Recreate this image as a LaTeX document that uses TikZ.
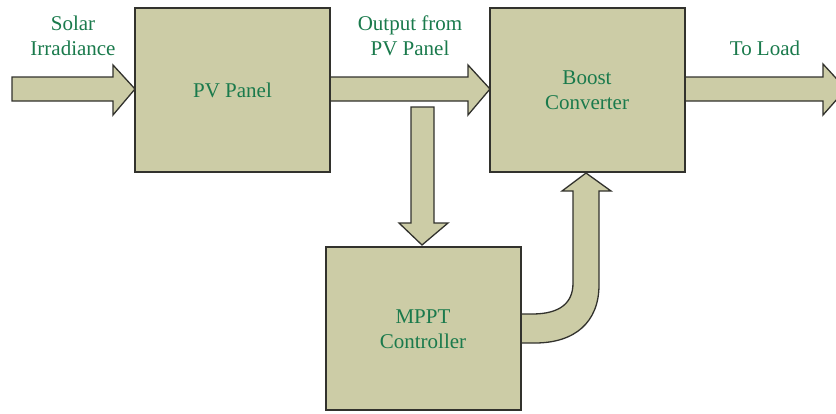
\documentclass[tikz,border=0pt]{standalone}
\usepackage{fontspec}
\setmainfont{Liberation Serif}
\definecolor{boxfill}{RGB}{204,204,166}
\definecolor{edgecol}{RGB}{50,50,45}
\definecolor{txtcol}{RGB}{26,122,76}
\begin{document}
\begin{tikzpicture}[x=1pt,y=-1pt,
  blockbox/.style={draw=edgecol,fill=boxfill,line width=1.3pt,minimum width=195pt,minimum height=164pt,inner sep=0pt,
    font=\fontsize{21}{25}\selectfont,text=txtcol,align=center},
  blockarrow/.style={draw=edgecol,fill=boxfill,line width=1.3pt,line join=miter},
  lbl/.style={font=\fontsize{21}{25}\selectfont,text=txtcol,align=center,inner sep=0pt}]
\useasboundingbox (0,0) rectangle (836,413);
% arrows
\draw[blockarrow] (12,77) -- (113,77) -- (113,65) -- (135,89) -- (113,115) -- (113,101) -- (12,101) -- cycle;
\draw[blockarrow] (330,77) -- (468,77) -- (468,65) -- (490,89) -- (468,115) -- (468,101) -- (330,101) -- cycle;
\draw[blockarrow] (685,77) -- (823,77) -- (823,64) -- (846,89) -- (823,115) -- (823,101) -- (685,101) -- cycle;
\draw[blockarrow] (411,107) -- (434,107) -- (434,223) -- (448,223) -- (422,245) -- (399,223) -- (411,223) -- cycle;
\draw[blockarrow] (515,314) -- (532,314) .. controls (560,314) and (573,303) .. (573,283) -- (573,191) -- (562,191) -- (586,173) -- (611,191) -- (599,191) -- (599,285) .. controls (599,322) and (575,343) .. (535,343) -- (515,343) -- cycle;
% boxes
\node[blockbox] (pv) at (232.5,90) {PV Panel};
\node[blockbox] (boost) at (587.5,90) {};
\node[blockbox,minimum width=195pt,minimum height=163pt] (mppt) at (423.5,328.5) {};
% labels
\node[lbl] (bt) at (587,90) {Boost\\Converter};
\node[lbl] (mt) at (423,329) {MPPT\\Controller};
\node[lbl] (solar) at (73,36) {Solar\\Irradiance};
\node[lbl] (out) at (410,36) {Output from\\PV Panel};
\node[lbl] (load) at (765,48) {To Load};
\end{tikzpicture}
\end{document}
